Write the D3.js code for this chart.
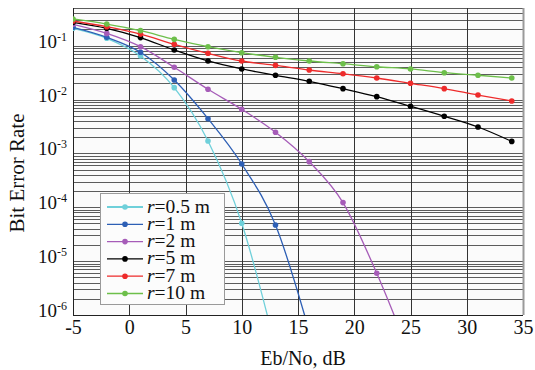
<!DOCTYPE html>
<html>
<head>
<meta charset="utf-8">
<script src="https://cdn.jsdelivr.net/npm/d3@7"></script>
<style>
  html, body { margin: 0; padding: 0; background: #ffffff; }
  svg { display: block; }
  text { font-family: "Liberation Serif", "Times New Roman", serif; fill: #111; }
</style>
</head>
<body>
<svg id="chart" width="535" height="370"></svg>
<script>
// ---------- data ----------
const ebno = [-5, -2, 1, 4, 7, 10, 13, 16, 19, 22, 25, 28, 31, 34];
const xTicks = [-5, 0, 5, 10, 15, 20, 25, 30, 35];
const yDecades = [-6, -5, -4, -3, -2, -1];
const seriesNames = ["0.5", "1", "2", "5", "7", "10"];
const seriesColors = ["#6fd0da", "#2d5fb5", "#a65cb8", "#000000", "#ee2b2b", "#6dbf4a"];
const ber_r05 = [0.210, 0.137, 0.0643, 0.0166, 0.00170, 5.04e-5, 2.5e-7];
const ber_r1  = [0.219, 0.143, 0.0754, 0.0230, 0.00441, 6.35e-4, 4.69e-5, 5e-7];
const ber_r2  = [0.249, 0.169, 0.0957, 0.0396, 0.0155, 0.00658, 0.00247, 7.02e-4, 1.22e-4, 5.94e-6, 1.7e-7];
const ber_r5  = [0.271, 0.210, 0.141, 0.0830, 0.0519, 0.0369, 0.0282, 0.0218, 0.0159, 0.0113, 0.00748, 0.00488, 0.00309, 0.00167];
const ber_r7  = [0.287, 0.225, 0.164, 0.106, 0.0721, 0.0519, 0.0431, 0.0353, 0.0301, 0.0251, 0.0200, 0.0159, 0.0121, 0.0094];
const ber_r10 = [0.313, 0.252, 0.190, 0.131, 0.0957, 0.0740, 0.0608, 0.0519, 0.0462, 0.0406, 0.0369, 0.0315, 0.0282, 0.0251];
const seriesValues = [ber_r05, ber_r1, ber_r2, ber_r5, ber_r7, ber_r10];

// ---------- layout ----------
const svg = d3.select("#chart");
const L = 73, R = 523, T = 8, B = 315;

const x = d3.scaleLinear().domain([-5, 35]).range([L, R]);
const y = d3.scaleLog().domain([1e-6, 0.5]).range([B, T]);

// plot background
svg.append("rect").attr("x", L).attr("y", T).attr("width", R - L).attr("height", B - T)
  .attr("fill", "#fbfbfb");

// horizontal grid (log minor lines)
const gridVals = [];
yDecades.forEach(e => {
  for (let k = 1; k <= 9; k++) {
    const v = k * Math.pow(10, e);
    if (v >= 1e-6 && v <= 0.5 + 1e-12) gridVals.push(v);
  }
});
svg.append("g").selectAll("line").data(gridVals).join("line")
  .attr("x1", L).attr("x2", R)
  .attr("y1", d => Math.round(y(d)) + 0.5).attr("y2", d => Math.round(y(d)) + 0.5)
  .attr("stroke", "#4a4a4a").attr("stroke-width", 0.9);

// vertical grid
svg.append("g").selectAll("line").data(xTicks).join("line")
  .attr("x1", d => Math.round(x(d)) + 0.5).attr("x2", d => Math.round(x(d)) + 0.5)
  .attr("y1", T).attr("y2", B)
  .attr("stroke", d => (d === 35 ? "#9a9a9a" : "#333")).attr("stroke-width", d => (d === 35 ? 2 : 1));

// axes frame left/bottom
svg.append("line").attr("x1", L + 0.5).attr("x2", L + 0.5).attr("y1", T).attr("y2", B)
  .attr("stroke", "#222").attr("stroke-width", 1);
svg.append("line").attr("x1", L).attr("x2", R).attr("y1", B + 0.5).attr("y2", B + 0.5)
  .attr("stroke", "#222").attr("stroke-width", 1);

// x tick labels via axis
const xAxis = d3.axisBottom(x).tickValues(xTicks).tickSize(0).tickPadding(0).tickFormat(d => String(d));
const gx = svg.append("g").attr("transform", `translate(0,${B})`).call(xAxis);
gx.select(".domain").remove();
gx.selectAll("text").attr("font-size", 20).attr("dy", null).attr("y", 19)
  .style("font-family", '"Liberation Serif", serif').attr("fill", "#111");

// y tick labels (10^e)
const gy = svg.append("g");
yDecades.forEach(e => {
  const t = gy.append("text").attr("x", 67).attr("y", y(Math.pow(10, e)) + 2)
    .attr("text-anchor", "end");
  t.append("tspan").attr("font-size", 19).text("10");
  t.append("tspan").attr("font-size", 12).attr("dy", -7).text(String(e));
});

// axis titles
svg.append("text").attr("x", 303).attr("y", 365).attr("text-anchor", "middle")
  .attr("font-size", 20).text("Eb/No, dB");
svg.append("text").attr("transform", "translate(24,173) rotate(-90)").attr("text-anchor", "middle")
  .attr("font-size", 21).text("Bit Error Rate");

// clip
svg.append("clipPath").attr("id", "clip").append("rect")
  .attr("x", L).attr("y", T - 4).attr("width", R - L + 4).attr("height", B - T + 4);

const line = d3.line().x(d => x(d[0])).y(d => y(d[1])).curve(d3.curveMonotoneX);
const plot = svg.append("g").attr("clip-path", "url(#clip)");

seriesValues.forEach((vals, i) => {
  const pts = vals.map((v, j) => [ebno[j], v]);
  const g = plot.append("g");
  g.append("path").datum(pts).attr("d", line).attr("fill", "none")
    .attr("stroke", seriesColors[i]).attr("stroke-width", 1.3);
  g.selectAll("circle").data(pts).join("circle")
    .attr("cx", d => x(d[0])).attr("cy", d => y(d[1])).attr("r", 2.8)
    .attr("fill", seriesColors[i]);
});

// legend
const lg = svg.append("g");
lg.append("rect").attr("x", 100.5).attr("y", 193.5).attr("width", 124).attr("height", 111)
  .attr("fill", "#fcfcfc").attr("stroke", "#9a9a9a").attr("stroke-width", 1);
seriesNames.forEach((name, i) => {
  const yy = 207 + i * 17.3;
  lg.append("line").attr("x1", 107).attr("x2", 143).attr("y1", yy).attr("y2", yy)
    .attr("stroke", seriesColors[i]).attr("stroke-width", i === 0 ? 2 : 1.3);
  lg.append("circle").attr("cx", 125).attr("cy", yy).attr("r", 2.8).attr("fill", seriesColors[i]);
  const t = lg.append("text").attr("x", 147).attr("y", yy + 5.5).attr("font-size", 19.5);
  t.append("tspan").attr("font-style", "italic").text("r");
  t.append("tspan").text("=" + name + " m");
});
</script>
</body>
</html>
